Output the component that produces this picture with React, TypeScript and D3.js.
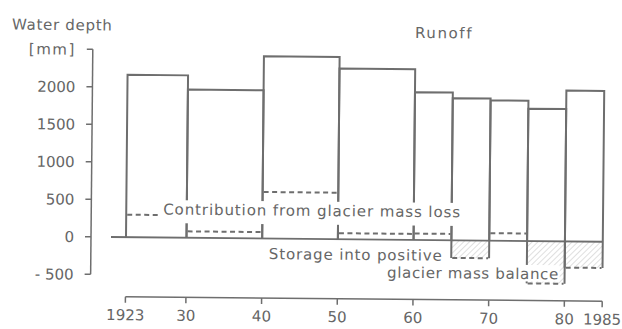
import * as d3 from 'd3';

const WIDTH = 622;
const HEIGHT = 329;

// periods (years) and water depth values in mm
const periodStart = [1923, 1930, 1940, 1950, 1960, 1965, 1970, 1975, 1980];
const periodEnd = [1930, 1940, 1950, 1960, 1965, 1970, 1975, 1980, 1985];
const runoff = [2165, 1975, 2430, 2275, 1970, 1895, 1870, 1765, 2010];
const glacier = [300, 85, 620, 80, 85, -235, 100, -565, -350];

const xTicks = [1923, 1930, 1940, 1950, 1960, 1970, 1980, 1985];
const xTickLabels = ['1923', '30', '40', '50', '60', '70', '80', '1985'];
const yTicks = [-500, 0, 500, 1000, 1500, 2000, 2500];
const yTickLabels = ['- 500', '0', '500', '1000', '1500', '2000', '[mm]'];

const INK = '#6e6e6e';
const TEXT = '#666';
const FONT = '"DejaVu Sans", sans-serif';

// the original axis is stretched a bit for the first period
const x = d3.scaleLinear().domain([1923, 1930, 1985]).range([126, 186.5, 602.8]);
const y = d3.scaleLinear().domain([-500, 2500]).range([274.5, 49.5]);

const AXIS_X = 91;
const AXIS_Y = 296.5;

export default function App() {
  const y0 = y(0);

  const barPath = (i: number) => {
    const p = d3.path();
    const x0 = x(periodStart[i]);
    const x1 = x(periodEnd[i]);
    const yb = y(Math.min(0, glacier[i]));
    const yt = y(runoff[i]);
    p.moveTo(x0, yb);
    p.lineTo(x0, yt);
    p.lineTo(x1, yt);
    p.lineTo(x1, yb);
    return p.toString();
  };

  const labelStyle = { fontFamily: FONT, fontSize: 15, fill: TEXT };

  return (
    <svg
      width={WIDTH}
      height={HEIGHT}
      style={{ position: 'fixed', left: 0, top: 0, background: '#fff' }}
    >
      <defs>
        <pattern id="hatch" width={4} height={4} patternUnits="userSpaceOnUse" patternTransform="rotate(45)">
          <line x1={0} y1={0} x2={0} y2={4} stroke="#b0b0b0" strokeWidth={0.8} />
        </pattern>
      </defs>
      <rect width={WIDTH} height={HEIGHT} fill="#fff" />
      {/* scan is slightly tilted */}
      <g transform="rotate(0.55 110 237)">
        <text x={10} y={30.5} style={labelStyle} letterSpacing={0.7}>Water depth</text>
        <text x={413} y={35} style={labelStyle} letterSpacing={1.6}>Runoff</text>

        {/* y axis */}
        <line x1={AXIS_X} x2={AXIS_X} y1={y(2500)} y2={y(-500)} stroke={INK} strokeWidth={1.5} />
        {yTicks.map((t, i) => (
          <g key={t}>
            <line x1={AXIS_X - 6} x2={AXIS_X} y1={y(t)} y2={y(t)} stroke={INK} strokeWidth={1.5} />
            <text
              x={74}
              y={y(t) + 5.5}
              textAnchor="end"
              style={labelStyle}
              letterSpacing={i === yTicks.length - 1 ? 1.5 : 0}
            >
              {yTickLabels[i]}
            </text>
          </g>
        ))}

        {/* x axis */}
        <line x1={x(1923)} x2={x(1985)} y1={AXIS_Y} y2={AXIS_Y} stroke={INK} strokeWidth={1.5} />
        {xTicks.map((t, i) => (
          <g key={t}>
            <line x1={x(t)} x2={x(t)} y1={AXIS_Y} y2={AXIS_Y + 6} stroke={INK} strokeWidth={1.5} />
            <text x={x(t)} y={320} textAnchor="middle" style={labelStyle}>
              {xTickLabels[i]}
            </text>
          </g>
        ))}

        {/* storage into positive mass balance */}
        {glacier.map((g, i) =>
          g < 0 ? (
            <rect
              key={'h' + i}
              x={x(periodStart[i])}
              y={y0}
              width={x(periodEnd[i]) - x(periodStart[i])}
              height={y(g) - y0}
              fill="url(#hatch)"
            />
          ) : null
        )}

        {/* baseline */}
        <line x1={111} x2={x(1985)} y1={y0} y2={y0} stroke={INK} strokeWidth={1.8} />

        {/* runoff bars */}
        {runoff.map((_, i) => (
          <path key={'b' + i} d={barPath(i)} fill="none" stroke={INK} strokeWidth={2} />
        ))}

        {/* contribution from glacier mass */}
        {glacier.map((g, i) => (
          <line
            key={'g' + i}
            x1={x(periodStart[i]) + 1}
            x2={x(periodEnd[i]) - 1}
            y1={y(g)}
            y2={y(g)}
            stroke={INK}
            strokeWidth={2}
            strokeDasharray="5,3.5"
          />
        ))}

        {/* annotations with white backing */}
        <rect x={159} y={199.5} width={304} height={23} fill="#fff" />
        <text x={163} y={214} style={labelStyle} letterSpacing={0.9}>
          Contribution from glacier mass loss
        </text>
        <rect x={266} y={244} width={179} height={18} fill="#fff" />
        <text x={269} y={257.6} style={labelStyle} letterSpacing={0.86}>
          Storage into positive
        </text>
        <rect x={385} y={261} width={175} height={16.5} fill="#fff" />
        <text x={387.5} y={275} style={labelStyle} letterSpacing={0.65}>
          glacier mass balance
        </text>
      </g>
    </svg>
  );
}
